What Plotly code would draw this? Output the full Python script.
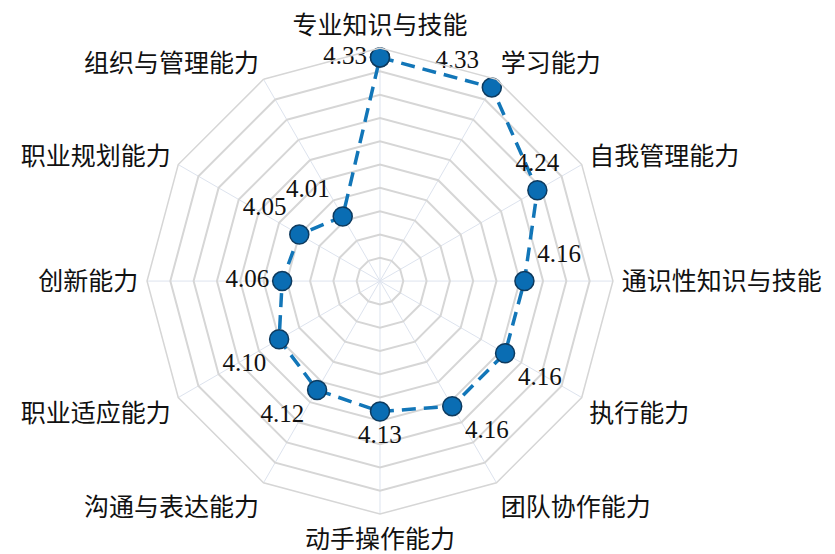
import plotly.graph_objects as go

categories = ["专业知识与技能", "学习能力", "自我管理能力", "通识性知识与技能", "执行能力", "团队协作能力",
              "动手操作能力", "沟通与表达能力", "职业适应能力", "创新能力", "职业规划能力", "组织与管理能力"]
values = [4.33, 4.33, 4.24, 4.16, 4.16, 4.16, 4.13, 4.12, 4.10, 4.06, 4.05, 4.01]
value_labels = ["4.33", "4.33", "4.24", "4.16", "4.16", "4.16", "4.13", "4.12", "4.10", "4.06", "4.05", "4.01"]
label_pos = ["middle left", "top left", "top center", "top right", "bottom right", "bottom right",
             "bottom center", "bottom left", "bottom left", "middle left", "top left", "top left"]

fig = go.Figure()
fig.add_trace(go.Scatterpolar(
    r=values + [values[0]],
    theta=categories + [categories[0]],
    mode="lines+markers+text",
    text=value_labels + [""],
    textposition=label_pos + ["top left"],
    textfont=dict(family="Liberation Serif, Noto Sans CJK SC", size=25, color="#111111"),
    line=dict(color="#1276b8", width=3.5, dash="14px,8px"),
    marker=dict(size=19, color="#0a6db3", line=dict(color="#0d3a5e", width=1.5)),
    cliponaxis=False,
    showlegend=False,
))

fig.update_layout(
    width=835, height=554,
    margin=dict(l=0, r=0, t=0, b=0),
    paper_bgcolor="white",
    polar=dict(
        domain=dict(x=[0.1665, 0.7245], y=[0.0866, 0.9276]),
        bgcolor="white",
        gridshape="linear",
        radialaxis=dict(range=[3.85, 4.35], dtick=0.05, showticklabels=False, ticks="",
                        showline=False, gridcolor="#d6d6d6", gridwidth=1.5),
        angularaxis=dict(direction="clockwise", rotation=90, showline=True, linecolor="#d6d6d6",
                         linewidth=1.5, gridcolor="#dde3ee", gridwidth=1.2,
                         ticks="outside", ticklen=3, tickcolor="rgba(0,0,0,0)",
                         tickfont=dict(family="Liberation Serif, Noto Sans CJK SC", size=25, color="#111111")),
    ),
)

fig.write_html("out.html")
